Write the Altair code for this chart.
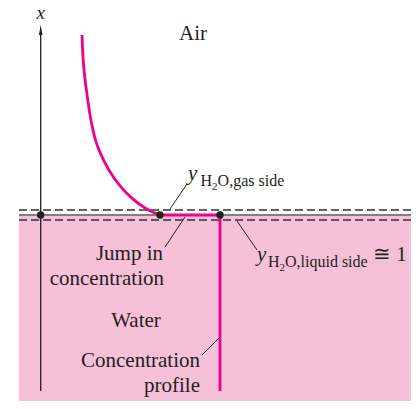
import altair as alt
import pandas as pd

# ---- data (units = reference picture pixels) ----
# concentration profile on the air side
curve_x = [82, 82.6, 83.3, 85, 87.3, 89.5, 91.2, 95, 100, 108.3, 120, 133.3, 145, 155, 160]
curve_y = [35, 50, 63, 80, 97, 112, 122, 140, 153, 170, 186.7, 200, 208.3, 213.3, 215]
# jump at the interface and liquid-side profile
step_x = [160, 220, 220]
step_y = [215, 215, 391]
# marked points on the interface
dot_x = [40.7, 160, 220]
dot_y = [215, 215, 215]
# water region
water_x = [19]
water_x2 = [415]
water_y = [216]
water_y2 = [409]
# interface (solid) and film boundaries (dashed)
iface_y = [215]
film_y = [210, 220]
line_x1 = 19
line_x2 = 415
# vertical x axis
axis_x = [40.7]
axis_y1 = [391]
axis_y2 = [33]
arrow_y = [30]
# leader lines
lead_x1 = [170, 185, 237, 220]
lead_y1 = [209, 217, 221, 337]
lead_x2 = [187, 165, 257, 202]
lead_y2 = [184, 247, 250, 355]

# text labels
main_text = ["Air", "Jump in", "concentration", "Water", "Concentration", "profile", "≅ 1"]
main_x = [193, 163, 164, 136, 200, 200, 373]
main_y = [40, 260, 285, 327, 367, 392, 261]
main_align = ["center", "right", "right", "center", "right", "right", "left"]
ital_text = ["y", "y"]
ital_x = [188, 257]
ital_y = [180, 261]
sub_text = ["H", "O,gas side", "H", "O,liquid side"]
sub_x = [200.5, 217.6, 268, 285]
sub_y = [186, 186, 267, 267]
subsub_text = ["2", "2"]
subsub_x = [212.1, 279.6]
subsub_y = [189.5, 270.5]

INK = "#231f20"
MAGENTA = "#ec008c"
PINK = "#f7c0d9"
FONT = "Liberation Serif, Times New Roman, DejaVu Serif, serif"

xs = alt.Scale(domain=[8, 411], nice=False, zero=False)
ys = alt.Scale(domain=[8, 401], nice=False, zero=False, reverse=True)

def X(f):
    return alt.X(f, type="quantitative", scale=xs, axis=None)

def Y(f):
    return alt.Y(f, type="quantitative", scale=ys, axis=None)

water = alt.Chart(pd.DataFrame({"x": water_x, "x2": water_x2, "y": water_y, "y2": water_y2})).mark_rect(
    color=PINK, clip=True).encode(x=X("x"), x2="x2", y=Y("y"), y2="y2")

film = alt.Chart(pd.DataFrame({"y": film_y, "x1": [line_x1] * 2, "x2": [line_x2] * 2})).mark_rule(
    color="#333333", strokeWidth=1.3, strokeDash=[8, 4], clip=True).encode(x=X("x1"), x2="x2", y=Y("y"))

iface = alt.Chart(pd.DataFrame({"y": iface_y, "x1": [line_x1], "x2": [line_x2]})).mark_rule(
    color="#555555", strokeWidth=1.5, clip=True).encode(x=X("x1"), x2="x2", y=Y("y"))

axis_line = alt.Chart(pd.DataFrame({"x": axis_x, "y1": axis_y1, "y2": axis_y2})).mark_rule(
    color=INK, strokeWidth=1.3).encode(x=X("x"), y=Y("y1"), y2="y2")

arrow = alt.Chart(pd.DataFrame({"x": axis_x, "y": arrow_y})).mark_point(
    shape="M0,-1L0.36,1L-0.36,1Z", size=100, filled=True, color=INK, opacity=1).encode(x=X("x"), y=Y("y"))

curve = alt.Chart(pd.DataFrame({"x": curve_x, "y": curve_y, "o": list(range(len(curve_x)))})).mark_line(
    color=MAGENTA, strokeWidth=2.8, interpolate="basis").encode(x=X("x"), y=Y("y"), order="o:Q")

step = alt.Chart(pd.DataFrame({"x": step_x, "y": step_y, "o": list(range(len(step_x)))})).mark_line(
    color=MAGENTA, strokeWidth=2.8).encode(x=X("x"), y=Y("y"), order="o:Q")

leaders = alt.Chart(pd.DataFrame({"x1": lead_x1, "y1": lead_y1, "x2": lead_x2, "y2": lead_y2})).mark_rule(
    color=INK, strokeWidth=1).encode(x=X("x1"), y=Y("y1"), x2="x2", y2="y2")

dots = alt.Chart(pd.DataFrame({"x": dot_x, "y": dot_y})).mark_circle(
    size=55, color=INK, opacity=1).encode(x=X("x"), y=Y("y"))

def texts(txt, x, y, size, align="left", style="normal"):
    df = pd.DataFrame({"t": txt, "x": x, "y": y})
    return alt.Chart(df).mark_text(
        font=FONT, fontSize=size, fontStyle=style, align=align, baseline="alphabetic", color=INK
    ).encode(x=X("x"), y=Y("y"), text="t:N")

main_layers = [
    texts([t], [xx], [yy], 21, a) for t, xx, yy, a in zip(main_text, main_x, main_y, main_align)
]
xlabel = texts(["x"], axis_x, [19], 19, "center", "italic")
ital = texts(ital_text, ital_x, ital_y, 21, "left", "italic")
sub = texts(sub_text, sub_x, sub_y, 16)
subsub = texts(subsub_text, subsub_x, subsub_y, 11)

chart = alt.layer(
    water, film, iface, axis_line, arrow, curve, step, leaders, dots,
    *main_layers, xlabel, ital, sub, subsub
).properties(
    width=403, height=393, padding=0, autosize="none", background="white"
).configure_view(stroke=None)

chart.save("out.html", embed_options={"renderer": "svg", "actions": False})
